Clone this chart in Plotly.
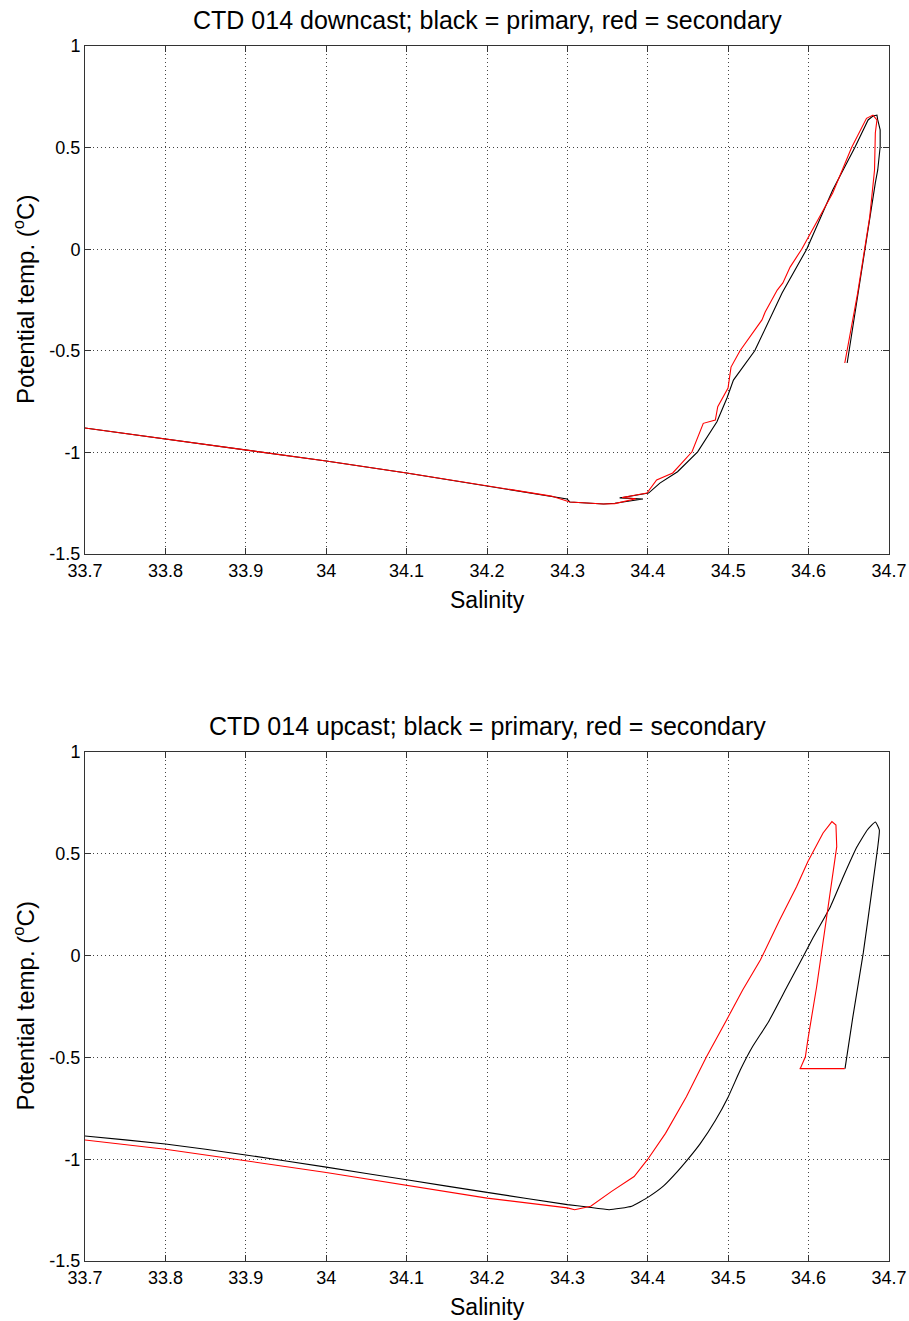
import plotly.graph_objects as go

# ---------------- data ----------------
# Downcast, primary (black)
down_pri_S = [33.60, 33.70, 33.80, 33.90, 34.00, 34.10, 34.20, 34.2995, 34.303, 34.319, 34.345, 34.359,
              34.394, 34.365, 34.401, 34.415, 34.437, 34.462, 34.486, 34.4985, 34.5065, 34.533, 34.567,
              34.5976, 34.630, 34.6575, 34.674, 34.680, 34.685, 34.686, 34.689, 34.689, 34.686, 34.683,
              34.670, 34.660, 34.648]
down_pri_T = [-0.826, -0.880, -0.935, -0.988, -1.042, -1.101, -1.165, -1.229, -1.244, -1.249, -1.254, -1.250,
              -1.229, -1.224, -1.200, -1.151, -1.095, -0.997, -0.849, -0.732, -0.644, -0.500, -0.216,
              0.000, 0.291, 0.500, 0.636, 0.655, 0.660, 0.636, 0.587, 0.504, 0.390, 0.326,
              -0.004, -0.250, -0.560]

# Downcast, secondary (red)
down_sec_S = [33.60, 33.70, 33.80, 33.90, 34.00, 34.10, 34.20, 34.28, 34.303, 34.319, 34.345, 34.359,
              34.385, 34.368, 34.399, 34.411, 34.431, 34.455, 34.469, 34.484, 34.487, 34.4998, 34.5035,
              34.5147, 34.531, 34.542, 34.546, 34.561, 34.568, 34.577, 34.5914, 34.630, 34.6535, 34.672,
              34.680, 34.685, 34.683, 34.682, 34.676, 34.661, 34.645]
down_sec_T = [-0.826, -0.880, -0.935, -0.988, -1.042, -1.101, -1.165, -1.215, -1.244, -1.249, -1.254, -1.252,
              -1.228, -1.222, -1.200, -1.136, -1.101, -0.997, -0.857, -0.841, -0.775, -0.683, -0.580,
              -0.500, -0.412, -0.348, -0.309, -0.201, -0.166, -0.088, 0.000, 0.277, 0.500, 0.644,
              0.660, 0.636, 0.572, 0.390, 0.158, -0.216, -0.560]

# Upcast, primary (black)
up_pri_S = [34.6453, 34.655, 34.668, 34.680, 34.686, 34.688, 34.683, 34.673, 34.660, 34.643, 34.627,
            34.606, 34.589, 34.573, 34.550, 34.530, 34.515, 34.500, 34.484, 34.465, 34.450, 34.437,
            34.420, 34.401, 34.380, 34.352, 34.325, 34.300, 34.20, 34.10, 34.00, 33.90, 33.80, 33.70, 33.60]
up_pri_T = [-0.555, -0.302, 0.013, 0.357, 0.533, 0.617, 0.656, 0.617, 0.533, 0.386, 0.239,
            0.091, -0.036, -0.154, -0.326, -0.449, -0.562, -0.694, -0.810, -0.925, -1.000, -1.060,
            -1.130, -1.185, -1.231, -1.248, -1.235, -1.223, -1.163, -1.101, -1.039, -0.979, -0.925,
            -0.886, -0.840]

# Upcast, secondary (red)
up_sec_S = [34.645, 34.589, 34.590, 34.596, 34.599, 34.610, 34.618, 34.624, 34.630, 34.635, 34.634,
            34.629, 34.618, 34.599, 34.585, 34.564, 34.540, 34.518, 34.498, 34.473, 34.448, 34.437,
            34.422, 34.400, 34.383, 34.355, 34.329, 34.309, 34.300, 34.20, 34.10, 34.00, 33.90, 33.80,
            33.70, 33.60]
up_sec_T = [-0.555, -0.555, -0.552, -0.497, -0.415, -0.153, 0.062, 0.224, 0.388, 0.535, 0.641,
            0.658, 0.602, 0.461, 0.338, 0.175, -0.022, -0.169, -0.316, -0.497, -0.693, -0.767,
            -0.873, -1.000, -1.085, -1.158, -1.231, -1.248, -1.239, -1.191, -1.129, -1.065, -1.008, -0.951,
            -0.906, -0.860]

x_ticks = [33.7, 33.8, 33.9, 34.0, 34.1, 34.2, 34.3, 34.4, 34.5, 34.6, 34.7]
x_tick_text = ["33.7", "33.8", "33.9", "34", "34.1", "34.2", "34.3", "34.4", "34.5", "34.6", "34.7"]
y_ticks = [-1.5, -1, -0.5, 0, 0.5, 1]
y_tick_text = ["-1.5", "-1", "-0.5", "0", "0.5", "1"]

titles = ["CTD 014 downcast; black = primary, red = secondary",
          "CTD 014 upcast; black = primary, red = secondary"]

# ---------------- figure ----------------
W, H = 909, 1321
FONT = "Liberation Sans, Arial, Helvetica, sans-serif"

fig = go.Figure()
fig.add_trace(go.Scatter(x=down_pri_S, y=down_pri_T, mode="lines",
                         line=dict(color="black", width=1.1), xaxis="x", yaxis="y", showlegend=False))
fig.add_trace(go.Scatter(x=down_sec_S, y=down_sec_T, mode="lines",
                         line=dict(color="#ff0000", width=1.1), xaxis="x", yaxis="y", showlegend=False))
fig.add_trace(go.Scatter(x=up_pri_S, y=up_pri_T, mode="lines", line_shape="spline",
                         line=dict(color="black", width=1.1, smoothing=0.4), xaxis="x2", yaxis="y2",
                         showlegend=False))
fig.add_trace(go.Scatter(x=up_sec_S, y=up_sec_T, mode="lines",
                         line=dict(color="#ff0000", width=1.1), xaxis="x2", yaxis="y2", showlegend=False))

x_dom = [85 / W, 889 / W]
y_dom_top = [1 - 554 / H, 1 - 46 / H]
y_dom_bot = [1 - 1261 / H, 1 - 752 / H]

def xaxis(anchor, dom):
    return dict(domain=dom, anchor=anchor, range=[33.7, 34.7], tickmode="array",
                tickvals=x_ticks, ticktext=x_tick_text, ticks="inside", ticklen=6,
                tickcolor="#333", showline=True, linecolor="#333", linewidth=1, mirror="ticks",
                showgrid=True, gridcolor="#444", gridwidth=1, griddash="1px,3px",
                zeroline=False, tickfont=dict(family=FONT, size=18, color="black"),
                automargin=False, fixedrange=True)

def yaxis(anchor, dom):
    return dict(domain=dom, anchor=anchor, range=[-1.5, 1], tickmode="array",
                tickvals=y_ticks, ticktext=y_tick_text, ticks="inside", ticklen=6,
                tickcolor="#333", showline=True, linecolor="#333", linewidth=1, mirror="ticks",
                showgrid=True, gridcolor="#444", gridwidth=1, griddash="1px,3px",
                zeroline=False, tickfont=dict(family=FONT, size=18, color="black"),
                automargin=False, fixedrange=True)

annotations = []
for i, (ydom, ttl) in enumerate([(y_dom_top, titles[0]), (y_dom_bot, titles[1])]):
    top_px = (1 - ydom[1]) * H
    bot_px = (1 - ydom[0]) * H
    # title
    annotations.append(dict(text=ttl, x=(x_dom[0] + x_dom[1]) / 2, y=1 - (top_px - 26) / H,
                            xref="paper", yref="paper", showarrow=False, xanchor="center",
                            yanchor="middle", font=dict(family=FONT, size=25, color="black")))
    # x label
    annotations.append(dict(text="Salinity", x=(x_dom[0] + x_dom[1]) / 2, y=1 - (bot_px + 46) / H,
                            xref="paper", yref="paper", showarrow=False, xanchor="center",
                            yanchor="middle", font=dict(family=FONT, size=23, color="black")))
    # y label
    annotations.append(dict(text="Potential temp. (<sup>o</sup>C)", x=24 / W,
                            y=1 - ((top_px + bot_px) / 2) / H,
                            xref="paper", yref="paper", showarrow=False, xanchor="center",
                            yanchor="middle", textangle=-90,
                            font=dict(family=FONT, size=24, color="black")))

fig.update_layout(
    width=W, height=H,
    margin=dict(l=0, r=0, t=0, b=0),
    paper_bgcolor="white", plot_bgcolor="white",
    xaxis=xaxis("y", x_dom), yaxis=yaxis("x", y_dom_top),
    xaxis2=xaxis("y2", x_dom), yaxis2=yaxis("x2", y_dom_bot),
    annotations=annotations,
    showlegend=False,
)

fig.write_html("out.html")
